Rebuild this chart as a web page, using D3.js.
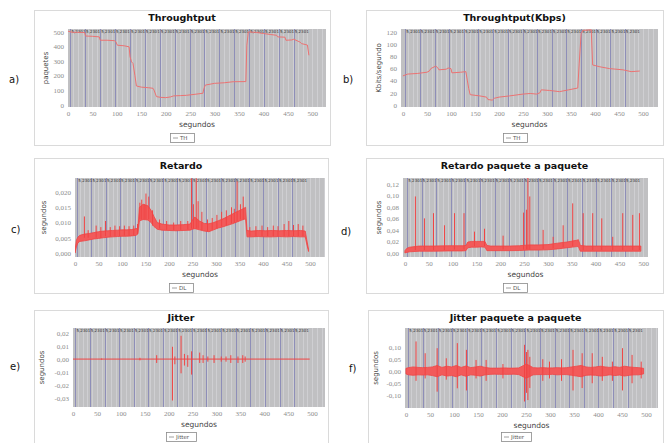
<!DOCTYPE html>
<html>
<head>
<meta charset="utf-8">
<script src="https://cdn.jsdelivr.net/npm/d3@7"></script>
<style>
body { margin: 0; background: #fff; }
svg { display: block; }
</style>
</head>
<body>
<script>
// ---- data ----
var xTicks = [0, 50, 100, 150, 200, 250, 300, 350, 400, 450, 500];
// vertical marker lines (seconds)
var markerTimes = [5, 35, 66, 96, 127, 157, 188, 218, 249, 279, 310, 340, 371, 401, 432, 462];
var markerText = "5,2301";

// a) Throughput in paquetes
var thrTime = [0, 8, 20, 34, 36, 50, 64, 66, 80, 95, 98, 101, 115, 125, 127, 130, 133, 137, 140, 150, 165, 174, 176, 181, 190, 200, 210, 216, 230, 242, 260, 276, 278, 281, 300, 320, 338, 364, 366, 369, 385, 400, 415, 427, 429, 444, 446, 458, 462, 475, 478, 490, 493];
var thrPkts = [505, 498, 497, 496, 472, 470, 466, 443, 443, 440, 432, 409, 405, 398, 330, 295, 284, 200, 130, 122, 118, 114, 102, 57, 52, 50, 55, 62, 64, 66, 73, 80, 110, 136, 148, 152, 159, 160, 409, 500, 497, 489, 482, 477, 466, 464, 443, 445, 450, 430, 420, 410, 340];
var thrTicks = [0, 100, 200, 300, 400, 500];

// b) Throughput in Kbps
var kbTime = [0, 10, 30, 50, 55, 58, 68, 72, 75, 90, 94, 100, 102, 120, 131, 134, 137, 140, 160, 174, 177, 186, 190, 200, 222, 250, 265, 278, 285, 288, 305, 326, 345, 364, 367, 371, 375, 392, 395, 410, 430, 458, 475, 493];
var kbVal = [48, 51, 52, 54, 56, 60, 64, 62, 58, 59, 61, 60, 53, 54, 55, 41, 27, 17, 15, 13, 9, 8, 11, 13, 15, 18, 19, 18, 20, 25, 24, 22, 25, 28, 69, 118, 123, 124, 66, 63, 60, 58, 55, 56];
var kbTicks = [0, 20, 40, 60, 80, 100, 120];

// c) Retardo: band envelope + spikes [t, low, high]
var dlTime = [0, 3, 6, 10, 20, 30, 40, 50, 60, 70, 80, 90, 100, 110, 120, 130, 134, 137, 145, 155, 162, 168, 175, 185, 200, 215, 230, 245, 250, 255, 265, 275, 285, 295, 305, 315, 325, 335, 345, 355, 363, 366, 375, 390, 405, 420, 435, 450, 465, 480, 490, 493, 497];
var dlLow = [0.000, 0.002, 0.0033, 0.0038, 0.004, 0.0043, 0.0046, 0.0048, 0.005, 0.0052, 0.0053, 0.0054, 0.0055, 0.0055, 0.0056, 0.0058, 0.0063, 0.0105, 0.011, 0.0108, 0.0100, 0.0087, 0.0078, 0.0075, 0.0074, 0.0073, 0.0074, 0.0075, 0.0078, 0.008, 0.0076, 0.0072, 0.007, 0.0076, 0.0082, 0.0086, 0.0091, 0.0096, 0.0102, 0.0108, 0.0112, 0.0053, 0.0053, 0.0054, 0.0053, 0.0053, 0.0054, 0.0053, 0.0054, 0.0053, 0.0053, 0.003, 0.0005];
var dlHigh = [0.001, 0.0042, 0.0052, 0.0058, 0.0062, 0.0064, 0.0067, 0.007, 0.0072, 0.0073, 0.0074, 0.0075, 0.0076, 0.0076, 0.0077, 0.008, 0.0082, 0.015, 0.016, 0.0155, 0.014, 0.012, 0.01, 0.0095, 0.0092, 0.0092, 0.0093, 0.0095, 0.0108, 0.0118, 0.0105, 0.0097, 0.0096, 0.01, 0.0106, 0.0112, 0.012, 0.0128, 0.0136, 0.0143, 0.015, 0.0074, 0.0072, 0.0074, 0.0073, 0.0074, 0.0073, 0.0074, 0.0073, 0.0074, 0.0072, 0.0045, 0.0012];
var dlSpikes = [[20, 0.005, 0.012], [28, 0.005, 0.0075], [45, 0.005, 0.009], [55, 0.005, 0.0085], [65, 0.0055, 0.0105], [75, 0.0055, 0.0085], [85, 0.0055, 0.009], [95, 0.0056, 0.0088], [105, 0.0057, 0.009], [115, 0.0057, 0.0088], [125, 0.0058, 0.009], [133, 0.0062, 0.0095], [138, 0.011, 0.0165], [142, 0.011, 0.0175], [147, 0.011, 0.016], [151, 0.011, 0.0195], [157, 0.011, 0.0185], [165, 0.009, 0.014], [180, 0.008, 0.011], [195, 0.0076, 0.0105], [210, 0.0075, 0.01], [225, 0.0076, 0.0105], [240, 0.0077, 0.0105], [248, 0.008, 0.0245], [252, 0.008, 0.016], [258, 0.008, 0.0245], [262, 0.008, 0.017], [270, 0.0075, 0.0135], [282, 0.0072, 0.011], [292, 0.0076, 0.0115], [302, 0.008, 0.0125], [312, 0.0087, 0.0135], [322, 0.009, 0.014], [333, 0.0097, 0.015], [339, 0.01, 0.0145], [345, 0.0104, 0.0235], [352, 0.011, 0.016], [358, 0.011, 0.0185], [372, 0.0055, 0.0085], [385, 0.0055, 0.0088], [398, 0.0055, 0.009], [410, 0.0055, 0.0085], [422, 0.0055, 0.009], [432, 0.0055, 0.0088], [445, 0.0055, 0.0095], [455, 0.0055, 0.0105], [465, 0.0055, 0.0092], [475, 0.0055, 0.0095], [485, 0.0055, 0.009]];
var dlTicks = [0, 0.005, 0.010, 0.015, 0.020];

// d) Retardo paquete a paquete
var pkTime = [0, 4, 10, 30, 60, 90, 120, 128, 132, 140, 150, 160, 168, 172, 180, 200, 220, 240, 260, 280, 300, 320, 340, 360, 364, 368, 380, 400, 420, 440, 460, 480, 495];
var pkLow = [0.0, 0.001, 0.002, 0.003, 0.003, 0.0035, 0.0035, 0.004, 0.009, 0.010, 0.010, 0.0105, 0.010, 0.004, 0.004, 0.004, 0.004, 0.0042, 0.005, 0.005, 0.0055, 0.007, 0.009, 0.011, 0.011, 0.003, 0.003, 0.003, 0.003, 0.003, 0.003, 0.003, 0.003];
var pkHigh = [0.004, 0.008, 0.010, 0.012, 0.012, 0.0125, 0.0125, 0.013, 0.019, 0.020, 0.020, 0.020, 0.020, 0.013, 0.012, 0.012, 0.012, 0.0125, 0.014, 0.014, 0.0145, 0.017, 0.019, 0.022, 0.023, 0.013, 0.012, 0.012, 0.012, 0.012, 0.012, 0.012, 0.012];
var pkSpikes = [[22, 0.005, 0.098], [41, 0.005, 0.060], [60, 0.005, 0.069], [83, 0.005, 0.048], [104, 0.006, 0.069], [124, 0.006, 0.069], [146, 0.012, 0.037], [167, 0.012, 0.042], [206, 0.006, 0.030], [249, 0.006, 0.070], [255, 0.006, 0.075], [258, 0.006, 0.135], [262, 0.006, 0.098], [290, 0.007, 0.040], [311, 0.008, 0.028], [332, 0.010, 0.048], [352, 0.012, 0.086], [374, 0.005, 0.069], [394, 0.005, 0.069], [413, 0.005, 0.060], [436, 0.005, 0.028], [457, 0.005, 0.069], [478, 0.005, 0.066], [492, 0.005, 0.069]];
var pkTicks = [0, 0.02, 0.04, 0.06, 0.08, 0.10, 0.12];

// e) Jitter
var jtTime = [0, 495];
var jtVal = [0, 0];
var jtSpikes = [[60, -0.0005, 0.0005], [140, -0.001, 0.001], [175, -0.003, 0.003], [208, -0.032, 0.0095], [213, -0.004, 0.002], [226, -0.011, 0.018], [233, -0.005, 0.004], [240, -0.006, 0.003], [248, -0.012, 0.006], [265, -0.003, 0.005], [272, -0.003, 0.003], [282, -0.002, 0.002], [295, -0.003, 0.003], [310, -0.002, 0.002], [320, -0.002, 0.002], [330, -0.003, 0.003], [345, -0.003, 0.002], [355, -0.003, 0.003], [360, -0.002, 0.002]];
var jtTicks = [-0.03, -0.02, -0.01, 0, 0.01, 0.02];

// f) Jitter paquete a paquete
var jpTime = [0, 5, 15, 25, 35, 45, 55, 65, 75, 85, 95, 105, 115, 125, 135, 145, 155, 165, 175, 185, 195, 205, 215, 225, 235, 245, 250, 255, 265, 275, 285, 295, 305, 315, 325, 335, 345, 355, 365, 375, 385, 395, 405, 415, 425, 435, 445, 455, 465, 475, 485, 495];
var jpHigh = [0.012, 0.015, 0.018, 0.016, 0.015, 0.016, 0.018, 0.024, 0.016, 0.021, 0.018, 0.024, 0.016, 0.022, 0.015, 0.018, 0.021, 0.016, 0.013, 0.013, 0.013, 0.014, 0.013, 0.013, 0.014, 0.024, 0.03, 0.026, 0.015, 0.014, 0.015, 0.014, 0.014, 0.015, 0.014, 0.015, 0.018, 0.021, 0.024, 0.018, 0.016, 0.018, 0.021, 0.018, 0.016, 0.019, 0.016, 0.021, 0.018, 0.016, 0.015, 0.012];
var jpLow = [-0.011, -0.015, -0.017, -0.015, -0.016, -0.015, -0.018, -0.023, -0.015, -0.02, -0.018, -0.023, -0.015, -0.021, -0.015, -0.017, -0.02, -0.015, -0.013, -0.012, -0.013, -0.013, -0.013, -0.012, -0.014, -0.024, -0.029, -0.025, -0.015, -0.014, -0.014, -0.014, -0.013, -0.015, -0.014, -0.014, -0.017, -0.02, -0.023, -0.017, -0.016, -0.017, -0.02, -0.018, -0.015, -0.018, -0.016, -0.02, -0.017, -0.015, -0.015, -0.011];
var jpSpikes = [[21, -0.04, 0.124], [40, -0.03, 0.075], [65, -0.085, 0.096], [84, -0.035, 0.054], [107, -0.071, 0.117], [126, -0.08, 0.089], [146, -0.03, 0.047], [167, -0.04, 0.047], [202, -0.03, 0.03], [247, -0.126, 0.11], [251, -0.09, 0.08], [254, -0.12, 0.089], [258, -0.07, 0.06], [285, -0.04, 0.05], [299, -0.03, 0.04], [324, -0.04, 0.05], [348, -0.08, 0.089], [367, -0.07, 0.075], [388, -0.05, 0.075], [409, -0.04, 0.06], [430, -0.04, 0.04], [451, -0.08, 0.096], [471, -0.05, 0.068], [490, -0.03, 0.04]];
var jpTicks = [-0.10, -0.05, 0, 0.05, 0.10];

// ---- drawing ----
var es = d3.formatLocale({decimal: ",", thousands: ".", grouping: [3], currency: ["", ""], minus: "-"});

var svg = d3.select("body").append("svg")
  .attr("width", 666)
  .attr("height", 443);

var lineRed = "#f04444";

function zip(a, b) {
  return a.map(function(v, i) { return [v, b[i]]; });
}

function drawPanel(cfg, idx) {
  var g = svg.append("g");
  var bx = cfg.box, p = cfg.plot;
  var cx = bx[0] + bx[2] / 2;

  g.append("rect")
    .attr("x", bx[0] + 0.5).attr("y", bx[1] + 0.5)
    .attr("width", bx[2]).attr("height", bx[3])
    .attr("fill", "#fff").attr("stroke", "#dadada");

  var x = d3.scaleLinear().domain(cfg.xDomain).range([p[0], p[1]]);
  var y = d3.scaleLinear().domain(cfg.yDomain).range([p[3], p[2]]);

  g.append("clipPath").attr("id", "clip" + idx)
    .append("rect").attr("x", p[0]).attr("y", p[2])
    .attr("width", p[1] - p[0]).attr("height", p[3] - p[2]);

  g.append("rect")
    .attr("x", p[0]).attr("y", p[2])
    .attr("width", p[1] - p[0]).attr("height", p[3] - p[2])
    .attr("fill", "#c0c0c2");

  var inner = g.append("g").attr("clip-path", "url(#clip" + idx + ")");

  // faint grid
  inner.selectAll(".grid")
    .data(d3.range(10, 540, 10))
    .enter().append("line")
    .attr("x1", d => Math.round(x(d)) + 0.5).attr("x2", d => Math.round(x(d)) + 0.5)
    .attr("y1", p[2]).attr("y2", p[3])
    .attr("stroke", "#cfcfd2").attr("stroke-width", 1);

  // marker lines
  inner.selectAll(".mk")
    .data(markerTimes)
    .enter().append("line")
    .attr("x1", d => Math.round(x(d)) + 0.5).attr("x2", d => Math.round(x(d)) + 0.5)
    .attr("y1", p[2]).attr("y2", p[3])
    .attr("stroke", "#8e8eb8").attr("stroke-width", 1);

  inner.selectAll(".mt")
    .data(markerTimes)
    .enter().append("text")
    .attr("x", d => x(d) + 1)
    .attr("y", p[2] + 4)
    .attr("font-size", "4px")
    .attr("font-family", "DejaVu Sans")
    .attr("fill", "#333")
    .text(markerText);

  cfg.draw(inner, x, y);

  // axes
  var xAxis = d3.axisBottom(x).tickValues(xTicks).tickSize(0).tickPadding(4);
  var gx = g.append("g").attr("transform", "translate(0," + p[3] + ")").call(xAxis);
  var yAxis = d3.axisLeft(y).tickValues(cfg.yTicks).tickSize(0).tickPadding(4)
    .tickFormat(cfg.yFmt);
  var gy = g.append("g").attr("transform", "translate(" + p[0] + ",0)").call(yAxis);
  [gx, gy].forEach(function(a) {
    a.select(".domain").remove();
    a.selectAll("text")
      .attr("font-size", "7px")
      .attr("font-family", "Liberation Serif")
      .attr("fill", "#8c8c8c");
  });

  // title
  g.append("text")
    .attr("x", cx).attr("y", bx[1] + 11)
    .attr("text-anchor", "middle")
    .attr("font-family", "DejaVu Sans")
    .attr("font-weight", "bold")
    .attr("font-size", "9.5px")
    .attr("fill", "#111")
    .text(cfg.title);

  // axis titles
  g.append("text")
    .attr("x", (p[0] + p[1]) / 2).attr("y", p[3] + 20)
    .attr("text-anchor", "middle")
    .attr("font-family", "DejaVu Sans")
    .attr("font-size", "7.5px")
    .attr("fill", "#444")
    .text("segundos");

  g.append("text")
    .attr("transform", "translate(" + cfg.yLabelX + "," + ((p[2] + p[3]) / 2) + ") rotate(-90)")
    .attr("text-anchor", "middle")
    .attr("font-family", "DejaVu Sans")
    .attr("font-size", "7px")
    .attr("fill", "#444")
    .text(cfg.yLabel);

  // legend
  var lw = cfg.legendW;
  var lx = Math.round(cx - lw / 2), ly = cfg.legendY;
  g.append("rect")
    .attr("x", lx + 0.5).attr("y", ly + 0.5)
    .attr("width", lw).attr("height", 9)
    .attr("fill", "#fff").attr("stroke", "#8a8a8a").attr("stroke-width", 0.8);
  g.append("line")
    .attr("x1", lx + 3).attr("x2", lx + 8)
    .attr("y1", ly + 5).attr("y2", ly + 5)
    .attr("stroke", "#888").attr("stroke-width", 0.8);
  g.append("text")
    .attr("x", lx + 10).attr("y", ly + 7)
    .attr("font-family", "DejaVu Sans")
    .attr("font-size", "5.5px")
    .attr("fill", "#555")
    .text(cfg.legend);

  // panel tag
  svg.append("text")
    .attr("x", cfg.tag[1]).attr("y", cfg.tag[2])
    .attr("font-family", "DejaVu Sans")
    .attr("font-size", "10px")
    .attr("fill", "#111")
    .text(cfg.tag[0]);
}

function drawLine(g, x, y, t, v, color, w) {
  g.append("path")
    .datum(zip(t, v))
    .attr("fill", "none")
    .attr("stroke", color)
    .attr("stroke-width", w)
    .attr("d", d3.line().x(d => x(d[0])).y(d => y(d[1])));
}

function drawBand(g, x, y, t, lo, hi) {
  var pts = t.map(function(d, i) { return {t: d, lo: lo[i], hi: hi[i]}; });
  g.append("path")
    .datum(pts)
    .attr("fill", "#f25a5a")
    .attr("stroke", lineRed)
    .attr("stroke-width", 0.8)
    .attr("d", d3.area().x(d => x(d.t)).y0(d => y(d.lo)).y1(d => y(d.hi)));
}

function drawSpikes(g, x, y, spikes, w) {
  g.selectAll(".sp")
    .data(spikes)
    .enter().append("path")
    .attr("fill", "none")
    .attr("stroke", lineRed)
    .attr("stroke-width", w)
    .attr("d", d => d3.line()([[x(d[0]), y(d[1])], [x(d[0]), y(d[2])]]));
}

var f0 = es.format(".0f");
var panels = [
  {
    box: [34, 10, 296, 135], plot: [68, 326, 29, 107],
    xDomain: [0, 528], yDomain: [-14, 520], yTicks: thrTicks, yFmt: f0,
    title: "Throughtput", yLabel: "paquetes", yLabelX: 48,
    legend: "TH", legendW: 24, legendY: 133, tag: ["a)", 9, 83],
    draw: function(g, x, y) { drawLine(g, x, y, thrTime, thrPkts, "#ec7272", 1); }
  },
  {
    box: [366, 10, 297, 135], plot: [401, 658, 29, 107],
    xDomain: [-4, 531], yDomain: [-3.3, 125.3], yTicks: kbTicks, yFmt: f0,
    title: "Throughtput(Kbps)", yLabel: "Kbits/segundo", yLabelX: 381,
    legend: "TH", legendW: 24, legendY: 133, tag: ["b)", 343, 83],
    draw: function(g, x, y) { drawLine(g, x, y, kbTime, kbVal, "#ec7272", 1); }
  },
  {
    box: [34, 158, 294, 135], plot: [75, 325, 178, 257],
    xDomain: [0, 532], yDomain: [-0.0013, 0.0246], yTicks: dlTicks, yFmt: es.format(".3f"),
    title: "Retardo", yLabel: "segundos", yLabelX: 46,
    legend: "DL", legendW: 24, legendY: 283, tag: ["c)", 11, 233],
    draw: function(g, x, y) {
      drawBand(g, x, y, dlTime, dlLow, dlHigh);
      drawSpikes(g, x, y, dlSpikes, 1);
    }
  },
  {
    box: [366, 158, 297, 135], plot: [403, 648, 178, 257],
    xDomain: [-4, 510], yDomain: [-0.007, 0.130], yTicks: pkTicks, yFmt: es.format(".2f"),
    title: "Retardo paquete a paquete", yLabel: "segundos", yLabelX: 381,
    legend: "DL", legendW: 24, legendY: 283, tag: ["d)", 341, 235],
    draw: function(g, x, y) {
      drawBand(g, x, y, pkTime, pkLow, pkHigh);
      drawSpikes(g, x, y, pkSpikes, 1);
    }
  },
  {
    box: [34, 310, 294, 140], plot: [73, 325, 328, 407],
    xDomain: [0, 527], yDomain: [-0.037, 0.024], yTicks: jtTicks, yFmt: es.format(".2f"),
    title: "Jitter", yLabel: "segundos", yLabelX: 44,
    legend: "Jitter", legendW: 30, legendY: 432, tag: ["e)", 10, 370],
    draw: function(g, x, y) {
      drawLine(g, x, y, jtTime, jtVal, lineRed, 1);
      drawSpikes(g, x, y, jtSpikes, 1);
    }
  },
  {
    box: [368, 310, 295, 140], plot: [405, 658, 328, 408],
    xDomain: [-2, 525], yDomain: [-0.153, 0.18], yTicks: jpTicks, yFmt: es.format(".2f"),
    title: "Jitter paquete a paquete", yLabel: "segundos", yLabelX: 378,
    legend: "Jitter", legendW: 30, legendY: 432, tag: ["f)", 349, 372],
    draw: function(g, x, y) {
      drawBand(g, x, y, jpTime, jpLow, jpHigh);
      drawSpikes(g, x, y, jpSpikes, 1);
    }
  }
];

panels.forEach(drawPanel);
</script>
</body>
</html>
